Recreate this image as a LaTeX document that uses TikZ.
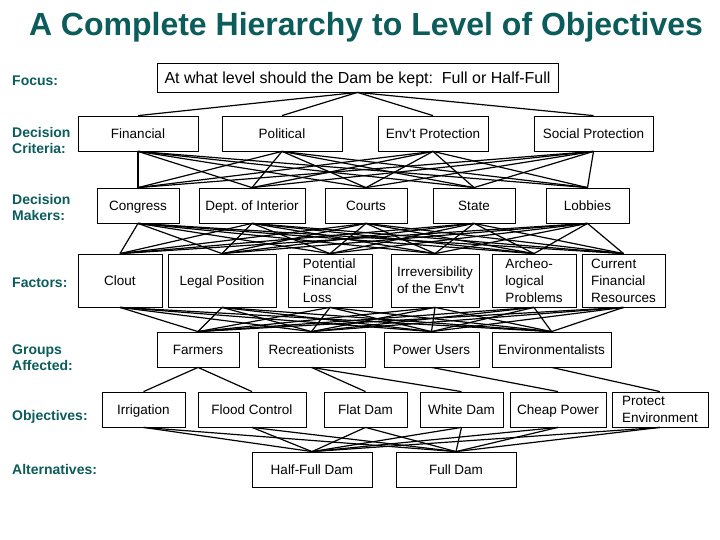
\documentclass[tikz,border=0pt]{standalone}
\usepackage{fontspec}
\setmainfont{Liberation Sans}
\newfontfamily\plainsf{Liberation Sans}
\definecolor{teal}{RGB}{12,92,92}
\newcommand{\apos}{{\plainsf'}}
\begin{document}
\frenchspacing
\begin{tikzpicture}[x=1pt,y=-1pt,
  box/.style={draw=black,fill=white,line width=0.8pt,inner sep=0pt,minimum height=35pt,
    font=\fontsize{13.5}{17}\selectfont,align=left},
  sbox/.style={box,text height=9.7pt,text depth=0pt},
  lbl/.style={anchor=west,text=teal,font=\bfseries\fontsize{14}{16}\selectfont,align=left,inner sep=0pt},
  link/.style={draw=black,line width=1.2pt}]
\useasboundingbox (0,0) rectangle (720,540);
\fill[white] (0,0) rectangle (720,540);
\node[text=teal,font=\bfseries\fontsize{32}{36}\selectfont,inner sep=0pt] (title) at (366,27) {A Complete Hierarchy to Level of Objectives};
% left labels
\node[lbl] (lfocus) at (12,81) {Focus:};
\node[lbl] (lcrit) at (12,140) {Decision\\Criteria:};
\node[lbl] (lmak) at (12,207) {Decision\\Makers:};
\node[lbl] (lfac) at (12,283) {Factors:};
\node[lbl] (lgrp) at (12,358) {Groups\\Affected:};
\node[lbl] (lobj) at (12,417) {Objectives:};
\node[lbl] (lalt) at (12,469) {Alternatives:};
% focus
\node[box,minimum width=401pt,minimum height=29pt,font=\fontsize{16}{18}\selectfont,text height=11.5pt,text depth=0pt] (focus) at (357.5,77.5) {At what level should the Dam be kept:\ \ Full or Half-Full};
% criteria
\node[sbox,minimum width=120pt] (fin) at (138,133.5) {Financial};
\node[sbox,minimum width=120pt] (pol) at (282,133.5) {Political};
\node[sbox,minimum width=110pt] (env) at (433,133.5) {Env\apos t Protection};
\node[sbox,minimum width=119pt] (soc) at (593.5,133.5) {Social Protection};
% makers
\node[sbox,minimum width=82pt] (cong) at (138,205.5) {Congress};
\node[sbox,minimum width=106pt] (dept) at (252,205.5) {Dept. of Interior};
\node[sbox,minimum width=82pt] (courts) at (366,205.5) {Courts};
\node[sbox,minimum width=82pt] (state) at (474,205.5) {State};
\node[sbox,minimum width=83pt] (lob) at (587.5,205.5) {Lobbies};
% factors
\node[sbox,minimum width=84pt,minimum height=53pt] (clout) at (120,280.5) {Clout};
\node[sbox,minimum width=108pt,minimum height=53pt] (legal) at (222,280.5) {Legal Position};
\node[box,minimum width=84pt,minimum height=53pt] (pot) at (330,280.5) {Potential\\Financial\\Loss};
\node[box,minimum width=88pt,minimum height=53pt] (irr) at (435,280.5) {Irreversibility\\of the Env\apos t};
\node[box,minimum width=84pt,minimum height=53pt] (arch) at (534,280.5) {Archeo-\\logical\\Problems};
\node[box,minimum width=83pt,minimum height=53pt] (cur) at (623.5,280.5) {Current\\Financial\\Resources};
% groups
\node[sbox,minimum width=82pt] (farm) at (198,349.5) {Farmers};
\node[sbox,minimum width=107pt] (rec) at (311.5,349.5) {Recreationists};
\node[sbox,minimum width=95pt] (pow) at (431.5,349.5) {Power Users};
\node[sbox,minimum width=119pt] (envm) at (551.5,349.5) {Environmentalists};
% objectives
\node[sbox,minimum width=83pt] (irrig) at (143.5,409.5) {Irrigation};
\node[sbox,minimum width=108pt] (flood) at (252,409.5) {Flood Control};
\node[sbox,minimum width=83pt] (flat) at (365.5,409.5) {Flat Dam};
\node[sbox,minimum width=83pt] (white) at (461.5,409.5) {White Dam};
\node[sbox,minimum width=96pt] (cheap) at (558,409.5) {Cheap Power};
\node[box,minimum width=96pt] (prot) at (660,409.5) {Protect\\Environment};
% alternatives
\node[sbox,minimum width=120pt] (half) at (312,469.5) {Half-Full Dam};
\node[sbox,minimum width=120pt] (full) at (456,469.5) {Full Dam};
% links
\foreach \b in {fin,pol,env,soc} \draw[link] (focus.south) -- (\b.north);
\foreach \a in {fin,pol,env,soc}
  \foreach \b in {cong,dept,courts,state,lob}
    \draw[link] (\a.south) -- (\b.north);
\foreach \a in {cong,dept,courts,state,lob}
  \foreach \b in {clout,legal,pot,irr,arch,cur}
    \draw[link] (\a.south) -- (\b.north);
\foreach \a in {clout,legal,pot,irr,arch,cur}
  \foreach \b in {farm,rec,pow,envm}
    \draw[link] (\a.south) -- (\b.north);
\draw[link] (farm.south) -- (irrig.north);
\draw[link] (farm.south) -- (flood.north);
\draw[link] (rec.south) -- (flat.north);
\draw[link] (rec.south) -- (white.north);
\draw[link] (pow.south) -- (cheap.north);
\draw[link] (envm.south) -- (prot.north);
\foreach \a in {irrig,flood,flat,white,cheap,prot}
  \foreach \b in {half,full}
    \draw[link] (\a.south) -- (\b.north);
\end{tikzpicture}
\end{document}
